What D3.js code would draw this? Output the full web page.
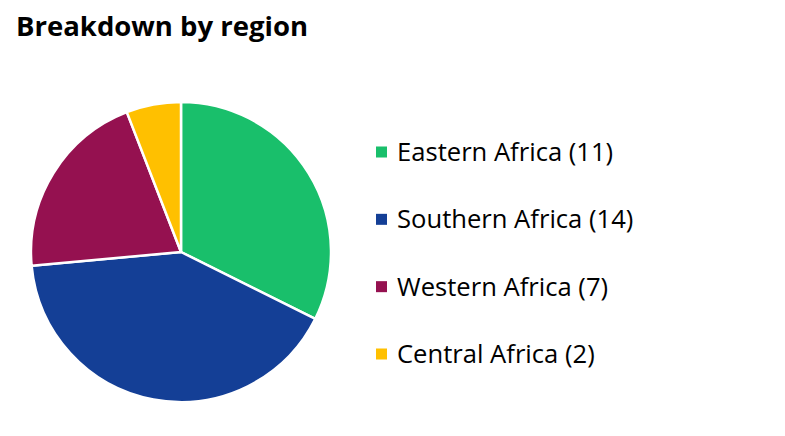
<!DOCTYPE html>
<html><head><meta charset="utf-8">
<script src="https://cdn.jsdelivr.net/npm/d3@7"></script>
<style>body{margin:0;background:#fff}</style>
</head><body>
<svg id="c" width="785" height="436"></svg>
<script>
const categories = ["Eastern Africa", "Southern Africa", "Western Africa", "Central Africa"];
const values = [11, 14, 7, 2];
const colors = ["#19BF6B", "#143F96", "#951150", "#FFC000"];
const title = "Breakdown by region";

const svg = d3.select("#c");
const font = "'Open Sans', sans-serif";
svg.append("text").attr("x", 16).attr("y", 36).text(title)
  .attr("font-family", font).attr("font-weight", "bold").attr("font-size", 27.5).attr("fill", "#000");

const cx = 181, cy = 252, r = 150;
const pie = d3.pie().sort(null).value(d => d)(values);
const arc = d3.arc().innerRadius(0).outerRadius(r);
svg.append("g").attr("transform", `translate(${cx},${cy})`)
  .selectAll("path").data(pie).join("path")
  .attr("d", arc).attr("fill", (d, i) => colors[i])
  .attr("stroke", "#fff").attr("stroke-width", 2.5).attr("stroke-linejoin", "round");

const ly = d3.scalePoint().domain(categories).range([152, 354]);
const lg = svg.append("g").selectAll("g").data(categories).join("g")
  .attr("transform", d => `translate(376,${ly(d)})`);
lg.append("rect").attr("x", 0).attr("y", -5.5).attr("width", 11).attr("height", 11)
  .attr("fill", (d, i) => colors[i]);
lg.append("text").attr("x", 21).attr("y", 0).attr("dy", "0.35em")
  .attr("font-family", font).attr("font-size", 25.6).attr("fill", "#000")
  .text((d, i) => `${d} (${values[i]})`);
</script>
</body></html>
